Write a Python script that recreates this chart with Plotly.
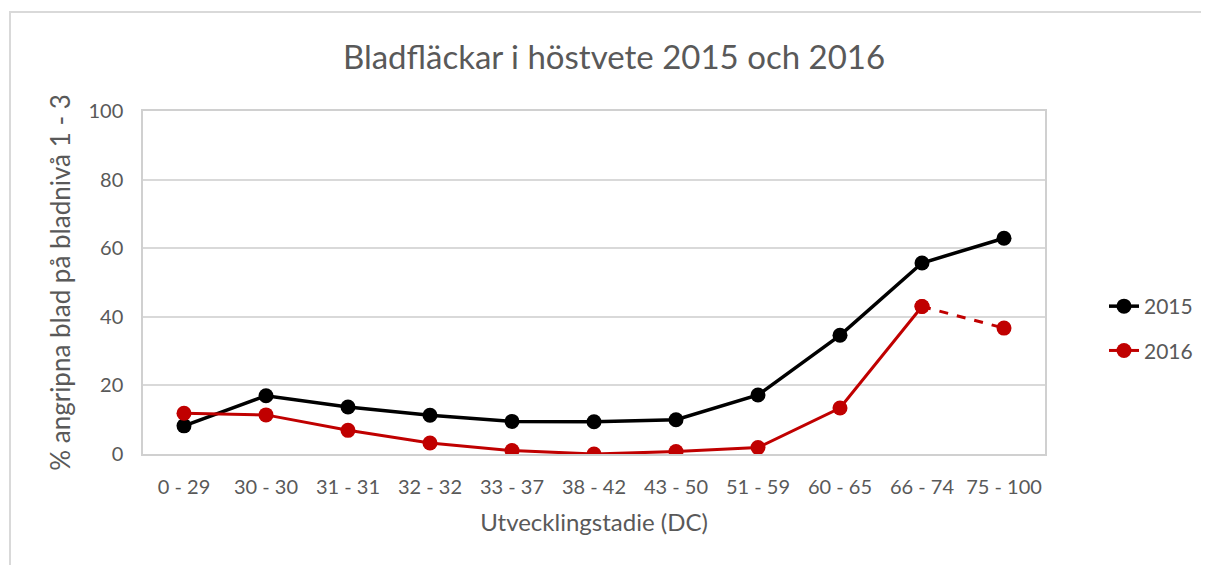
import plotly.graph_objects as go

categories = ["0 - 29", "30 - 30", "31 - 31", "32 - 32", "33 - 37", "38 - 42",
              "43 - 50", "51 - 59", "60 - 65", "66 - 74", "75 - 100"]
values_2015 = [8.2, 17.0, 13.7, 11.3, 9.5, 9.4, 10.0, 17.2, 34.6, 55.7, 62.9]
values_2016 = [11.9, 11.4, 6.9, 3.2, 1.0, 0.0, 0.7, 1.9, 13.4, 43.0, 36.7]
y_ticks = [0, 20, 40, 60, 80, 100]

TXT = "#595959"
FONT = "Lato"
OFF = 8  # page body margin
W, H = 1209 - OFF, 565 - OFF
L, R, T, B = 143 - OFF, 164, 111 - OFF, 111
pw, ph = W - L - R, H - T - B

def px_x(x):
    # absolute page pixel -> paper coordinate
    return (x - OFF - L) / pw

def px_y(y):
    return (H - B - (y - OFF)) / ph

fig = go.Figure()
fig.add_trace(go.Scatter(
    x=categories, y=values_2015, name="2015", mode="lines+markers",
    line=dict(color="#000000", width=3.5),
    marker=dict(color="#000000", size=15),
    legendgroup="a",
))
fig.add_trace(go.Scatter(
    x=categories[:10], y=values_2016[:10], name="2016", mode="lines+markers",
    line=dict(color="#C00000", width=3),
    marker=dict(color="#C00000", size=15),
    legendgroup="b",
))
fig.add_trace(go.Scatter(
    x=categories[9:], y=values_2016[9:], name="2016", mode="lines+markers",
    line=dict(color="#C00000", width=3, dash="dash"),
    marker=dict(color="#C00000", size=15),
    legendgroup="b", showlegend=False,
))

fig.update_layout(
    width=W, height=H,
    margin=dict(l=L, r=R, t=T, b=B, autoexpand=False),
    paper_bgcolor="white", plot_bgcolor="white",
    font=dict(family=FONT, color=TXT, size=20),
    title=dict(text="Bladfläckar i höstvete 2015 och 2016",
               x=(614 - OFF) / W, xanchor="center",
               y=1 - (57 - OFF) / H, yanchor="middle",
               font=dict(family=FONT, size=33, color=TXT)),
    xaxis=dict(
        type="category", categoryorder="array", categoryarray=categories,
        range=[-0.5, 10.5], showgrid=False,
        showline=True, linecolor="#D0D0D0", linewidth=1.5, mirror=True,
        ticks="", ticklabelstandoff=14,
        tickfont=dict(size=20, color=TXT, family=FONT),
        title=dict(text="Utvecklingstadie (DC)", standoff=17,
                   font=dict(size=24, color=TXT, family=FONT)),
    ),
    yaxis=dict(
        range=[0, 100], tickvals=y_ticks, showgrid=True,
        gridcolor="#D9D9D9", gridwidth=1.5,
        showline=True, linecolor="#D0D0D0", linewidth=1.5, mirror=True,
        zeroline=False, ticks="", ticklabelstandoff=14,
        tickfont=dict(size=20, color=TXT, family=FONT),
        title=dict(text="% angripna blad på bladnivå 1 - 3", standoff=10,
                   font=dict(size=26, color=TXT, family=FONT)),
    ),
    legend=dict(x=px_x(1104), xanchor="left", y=px_y(286), yanchor="top",
                font=dict(size=21, color=TXT, family=FONT),
                tracegroupgap=14, traceorder="grouped",
                bgcolor="rgba(0,0,0,0)"),
    showlegend=True,
)

fig.add_shape(type="rect", xref="paper", yref="paper",
              x0=px_x(10), x1=px_x(1240), y0=px_y(620), y1=px_y(12),
              line=dict(color="#D9D9D9", width=2), layer="below")

fig.write_html("out.html")
